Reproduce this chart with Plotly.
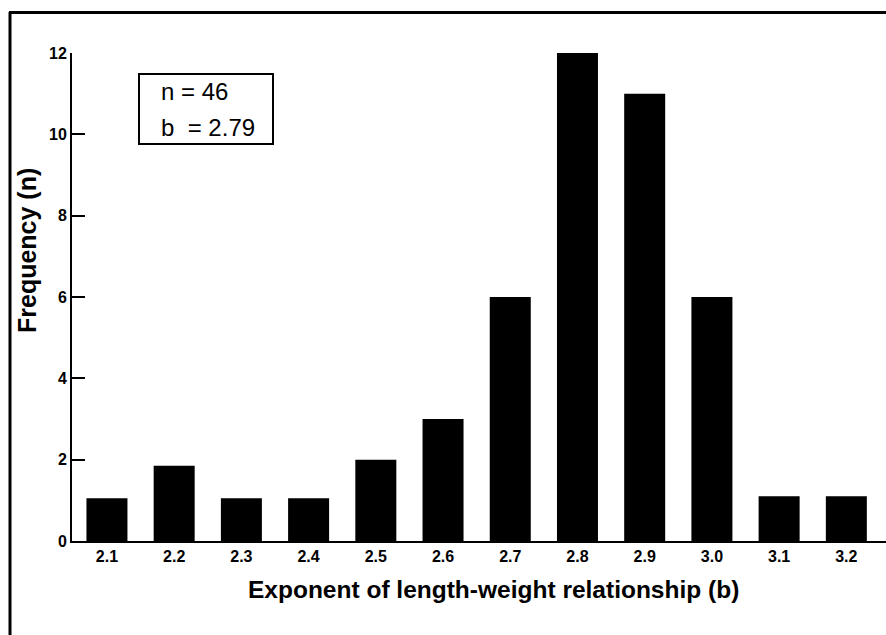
import plotly.graph_objects as go

categories = ["2.1", "2.2", "2.3", "2.4", "2.5", "2.6", "2.7", "2.8", "2.9", "3.0", "3.1", "3.2"]
frequency = [1.05, 1.85, 1.05, 1.05, 2.0, 3.0, 6.0, 12.0, 11.0, 6.0, 1.1, 1.1]
y_ticks = [0, 2, 4, 6, 8, 10, 12]
stats_text = ["n = 46", "b  = 2.79"]

FONT = "Liberation Sans, Arial, sans-serif"

fig = go.Figure()
fig.add_trace(go.Bar(
    x=list(range(len(categories))),
    y=frequency,
    marker=dict(color="black", line=dict(width=0)),
    showlegend=False,
))

W, H = 886, 635
L, R, T, B = 72, 0, 53, 94
pw, ph = W - L - R, H - T - B

def px_to_paper_x(px):
    return (px - L) / pw

def px_to_paper_y(py):
    return (H - B - py) / ph

fig.update_layout(
    width=W, height=H,
    margin=dict(l=L, r=R, t=T, b=B),
    paper_bgcolor="white",
    plot_bgcolor="white",
    bargap=0.39,
    font=dict(family=FONT, color="black"),
    xaxis=dict(
        range=[-0.52, 11.59],
        tickvals=list(range(len(categories))),
        ticktext=categories,
        showgrid=False, zeroline=False,
        showline=True, linecolor="black", linewidth=2,
        ticks="", tickfont=dict(size=16, family=FONT, weight="bold"),
    ),
    yaxis=dict(
        range=[0, 12],
        tickvals=y_ticks,
        showgrid=False, zeroline=False,
        showline=True, linecolor="black", linewidth=2,
        ticks="inside", ticklen=13, tickwidth=2, tickcolor="black",
        tickfont=dict(size=16, family=FONT, weight="bold"),
    ),
)

# axis titles
fig.add_annotation(
    text="<b>Exponent of length-weight relationship (b)</b>",
    xref="paper", yref="paper",
    x=px_to_paper_x(493), y=px_to_paper_y(589),
    xanchor="center", yanchor="middle", showarrow=False,
    font=dict(size=24.5, family=FONT, color="black"),
)
fig.add_annotation(
    text="<b>Frequency (n)</b>",
    xref="paper", yref="paper",
    x=px_to_paper_x(27), y=px_to_paper_y(251),
    xanchor="center", yanchor="middle", textangle=-90, showarrow=False,
    font=dict(size=25, family=FONT, color="black"),
)

# stats box
fig.add_shape(
    type="rect", xref="paper", yref="paper",
    x0=px_to_paper_x(139), x1=px_to_paper_x(273),
    y0=px_to_paper_y(144), y1=px_to_paper_y(74),
    line=dict(color="black", width=2), fillcolor="white",
)
for i, t in enumerate(stats_text):
    fig.add_annotation(
        text=t, xref="paper", yref="paper",
        x=px_to_paper_x(159), y=px_to_paper_y(91 + i * 37),
        xanchor="left", yanchor="middle", showarrow=False,
        font=dict(size=24, family=FONT, color="black"),
    )

# outer frame (partially cropped in original)
fig.add_shape(
    type="line", xref="paper", yref="paper",
    x0=px_to_paper_x(10), x1=px_to_paper_x(10),
    y0=px_to_paper_y(12), y1=px_to_paper_y(640),
    line=dict(color="black", width=3),
)
fig.add_shape(
    type="line", xref="paper", yref="paper",
    x0=px_to_paper_x(9), x1=px_to_paper_x(890),
    y0=px_to_paper_y(12.5), y1=px_to_paper_y(12.5),
    line=dict(color="black", width=3),
)

fig.write_html(
    "out.html",
    config={"displayModeBar": False},
    post_script="document.body.style.margin='0';document.body.style.padding='0';",
)
